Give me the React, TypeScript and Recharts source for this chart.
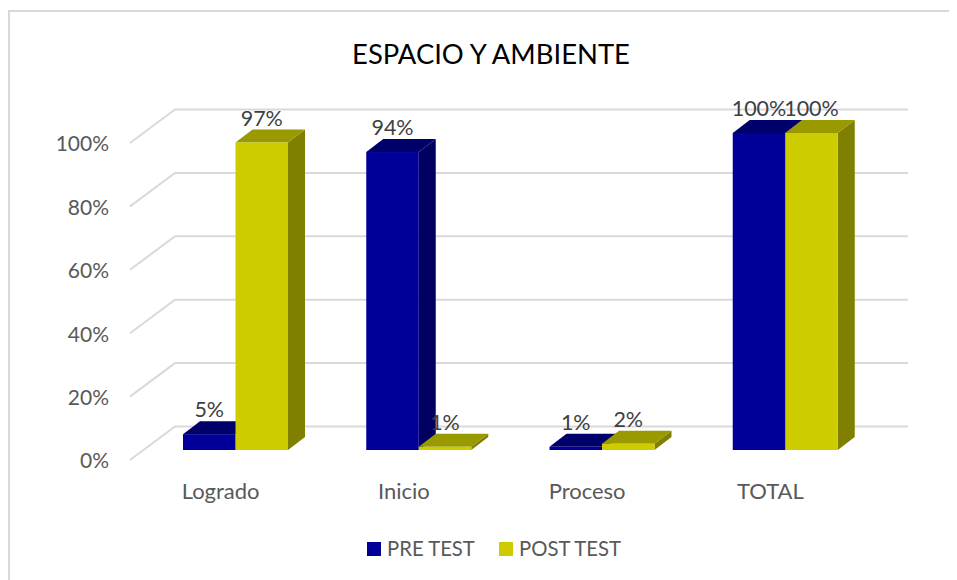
import React from 'react';
import { BarChart, Bar, XAxis, YAxis, CartesianGrid, Legend, LabelList } from 'recharts';

const categories = ['Logrado', 'Inicio', 'Proceso', 'TOTAL'];
const preTest = [0.05, 0.94, 0.01, 1];
const postTest = [0.97, 0.01, 0.02, 1];
const yTicks = [0, 0.2, 0.4, 0.6, 0.8, 1];

const data = categories.map((name, i) => ({ name, pre: preTest[i], post: postTest[i] }));

const FONT = 'Lato, "Open Sans", sans-serif';

// depth of the fake 3D boxes
const DX = 17;
const DY = 13;

const makeBox = (front: string, top: string, side: string) => (props: any) => {
  const { x, y, width, height } = props;
  const r = x + width;
  const b = y + height;
  return (
    <g>
      <polygon points={`${r},${y} ${r + DX},${y - DY} ${r + DX},${b - DY} ${r},${b}`} fill={side} />
      <polygon points={`${x},${y} ${x + DX},${y - DY} ${r + DX},${y - DY} ${r},${y}`} fill={top} />
      <rect x={x} y={y} width={width} height={height} fill={front} />
    </g>
  );
};

// wall + side wall gridline, same value as the bars but pushed back
const gridLine = (props: any) => {
  const { y1, index } = props;
  return (
    <polyline
      key={`grid-${index}`}
      points={`120,${y1 + 10} 165,${y1 - 23.5} 898,${y1 - 23.5}`}
      fill="none"
      stroke="#d9d9d9"
      strokeWidth={2}
    />
  );
};

const YTick = ({ x, y, payload }: any) => (
  <text x={x} y={y + 11} dy="0.35em" textAnchor="end" fontSize={21} fontFamily={FONT} fill="#595959">
    {`${Math.round(payload.value * 100)}%`}
  </text>
);

const XTick = ({ x, payload }: any) => (
  <text x={x - 15} y={479} dy="0.35em" textAnchor="middle" fontSize={22} fontFamily={FONT} fill="#595959">
    {payload.value}
  </text>
);

const BarLabel = ({ x, y, width, value }: any) => (
  <text x={x + width / 2} y={y - 24.5} dy="0.35em" textAnchor="middle" fontSize={21.5} fontFamily={FONT} fill="#404040">
    {`${Math.round(value * 100)}%`}
  </text>
);

const LegendContent = () => (
  <div style={{ position: 'relative', height: 30, fontFamily: FONT, fontSize: 20.3, color: '#595959' }}>
    <span style={{ position: 'absolute', left: 357, top: 11, width: 14, height: 14, background: '#000099' }} />
    <span style={{ position: 'absolute', left: 377, top: 5, lineHeight: '24px' }}>PRE TEST</span>
    <span style={{ position: 'absolute', left: 489, top: 11, width: 14, height: 14, background: '#cccc00' }} />
    <span style={{ position: 'absolute', left: 509, top: 5, lineHeight: '24px' }}>POST TEST</span>
  </div>
);

export default function App() {
  return (
    <div style={{ position: 'relative', width: 949, height: 570, margin: '2px 0 0 0', boxSizing: 'border-box', borderTop: '2px solid #d9d9d9', borderLeft: '2px solid #d9d9d9', overflow: 'hidden', background: '#fff' }}>
      <div style={{ position: 'absolute', left: 0, width: 939, top: 25, paddingLeft: 23, boxSizing: 'border-box', textAlign: 'center', fontFamily: FONT, fontSize: 27.4, color: '#000' }}>
        ESPACIO Y AMBIENTE
      </div>
      <BarChart
        width={937}
        height={568}
        data={data}
        margin={{ top: 121, right: 70, bottom: 70, left: 84 }}
        barGap={0}
        barSize={52.5}
      >
        <CartesianGrid horizontal={gridLine} vertical={false} />
        <XAxis dataKey="name" axisLine={false} tickLine={false} tick={<XTick />} height={30} />
        <YAxis
          domain={[0, 1]}
          ticks={yTicks}
          axisLine={false}
          tickLine={false}
          tickSize={0}
          tickMargin={35}
          width={50}
          tick={<YTick />}
        />
        <Legend verticalAlign="bottom" content={<LegendContent />} wrapperStyle={{ left: 0, width: 937, bottom: 19 }} />
        <Bar dataKey="pre" name="PRE TEST" fill="#000099" shape={makeBox('#000099', '#00006b', '#000060')} isAnimationActive={false}>
          <LabelList dataKey="pre" content={<BarLabel />} />
        </Bar>
        <Bar dataKey="post" name="POST TEST" fill="#cccc00" shape={makeBox('#cccc00', '#999900', '#808000')} isAnimationActive={false}>
          <LabelList dataKey="post" content={<BarLabel />} />
        </Bar>
      </BarChart>
    </div>
  );
}
